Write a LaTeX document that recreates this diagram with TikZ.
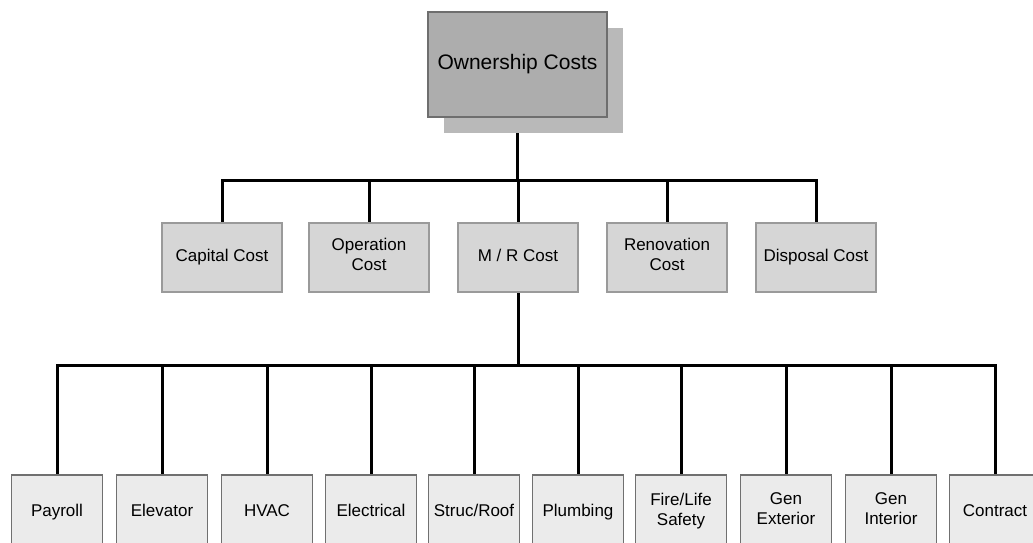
\documentclass[tikz,border=0pt]{standalone}
\usepackage{fontspec}
\setmainfont{Liberation Sans}
\usetikzlibrary{backgrounds}
\definecolor{topfill}{HTML}{ADADAD}
\definecolor{shadowfill}{HTML}{B9B9B9}
\definecolor{topline}{HTML}{6E6E6E}
\definecolor{midfill}{HTML}{D6D6D6}
\definecolor{midline}{HTML}{9A9A9A}
\definecolor{lowfill}{HTML}{EBEBEB}
\definecolor{lowline}{HTML}{707070}
\tikzset{
  x=1pt, y=-1pt,
  struts/.style={execute at begin node=\strut, execute at end node=\strut},
  rootbox/.style={draw=topline, line width=1.5pt, fill=topfill, minimum width=179pt, minimum height=105pt, inner sep=0pt, font=\fontsize{21}{24}\selectfont, struts},
  shadowbox/.style={draw=none, fill=shadowfill, minimum width=179pt, minimum height=105pt, inner sep=0pt},
  costbox/.style={draw=midline, line width=1.5pt, fill=midfill, minimum width=120pt, minimum height=69pt, inner sep=0pt, align=center, font=\fontsize{17}{20}\selectfont, struts},
  itembox/.style={draw=lowline, line width=1.8pt, fill=lowfill, minimum width=91pt, minimum height=74pt, inner sep=0pt, align=center, font=\fontsize{17}{20}\selectfont, struts},
  link/.style={line width=3pt, black, line cap=rect}
}
\begin{document}
\begin{tikzpicture}
\useasboundingbox (0,0) rectangle (1033,543);
\clip (0,0) rectangle (1033,543);

% root with its offset shadow
\node[shadowbox] (rootshadow) at (533.5,80.5) {};
\node[rootbox] (root) at (517.5,64.5) {Ownership Costs};

% first level: cost categories
\node[costbox] (capital) at (222,257.5) {Capital Cost};
\node[costbox] (operation) at (369,257.5) {Operation\\Cost};
\node[costbox] (mr) at (518,257.5) {M / R Cost};
\node[costbox] (renovation) at (667,257.5) {Renovation\\Cost};
\node[costbox] (disposal) at (816,257.5) {Disposal Cost};

% second level: M/R cost items (boxes run past the lower edge)
\node[itembox] (payroll) at (57,512) {Payroll};
\node[itembox] (elevator) at (162,512) {Elevator};
\node[itembox] (hvac) at (267,512) {HVAC};
\node[itembox] (electrical) at (371,512) {Electrical};
\node[itembox] (struc) at (474,512) {Struc/Roof};
\node[itembox] (plumbing) at (578,512) {Plumbing};
\node[itembox] (fire) at (681,512) {Fire/Life\\Safety};
\node[itembox] (genext) at (786,512) {Gen\\Exterior};
\node[itembox] (genint) at (891,512) {Gen\\Interior};
\node[itembox] (contract) at (995,512) {Contract};

% connectors, drawn behind the boxes
\coordinate (busA) at (517.5,180);
\coordinate (busB) at (518,365);
\begin{pgfonlayer}{background}
  \fill[white] (0,0) rectangle (1033,543);
  \draw[link] (root.south) -- (busA);
  \foreach \n in {capital,operation,mr,renovation,disposal}
    \draw[link] (busA) -| (\n.north);
  \draw[link] (mr.south) -- (busB);
  \foreach \n in {payroll,elevator,hvac,electrical,struc,plumbing,fire,genext,genint,contract}
    \draw[link] (busB) -| (\n.north);
\end{pgfonlayer}
\end{tikzpicture}
\end{document}
